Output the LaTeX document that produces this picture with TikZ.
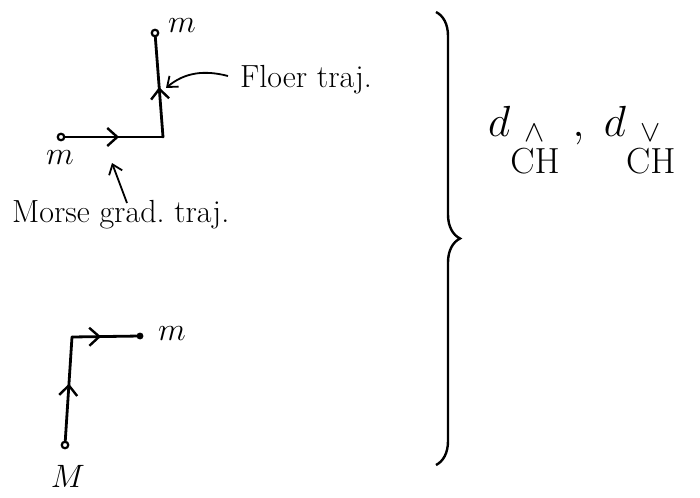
\documentclass[tikz,border=0pt]{standalone}
\usepackage{amsmath}
\usetikzlibrary{arrows.meta,decorations.markings,decorations.pathreplacing}
\begin{document}
\begin{tikzpicture}[x=1pt,y=-1pt,
  ink/.style={line width=2.8pt,line cap=round,line join=round},
  pt/.style={circle,draw,line width=2.2pt,fill=white,inner sep=2.3pt},
  midarrow/.style={postaction={decorate},decoration={markings,mark=at position #1 with {\arrow{Straight Barb[length=10pt,width=18pt,line width=2.4pt]}}}},
  lbl/.style={font=\Huge,inner sep=0pt},
  txt/.style={font=\fontsize{32}{36}\selectfont,inner sep=0pt,anchor=west},
  thin/.style={line width=1.8pt,-{Straight Barb[length=9pt,width=14pt,line width=1.8pt]}}
]
\useasboundingbox (0,0) rectangle (700,497);
% top figure
\node[pt] (a) at (61,137) {};
\coordinate (c1) at (163,137);
\node[pt] (b) at (155,33) {};
\draw[ink,midarrow=0.55] (a) -- (c1);
\draw[ink,midarrow=0.5] (c1) -- (b);
\node[lbl] (la) at (60,158) {\scalebox{1.3}{$m$}};
\node[lbl] (lb) at (182,26) {\scalebox{1.3}{$m$}};
\node[txt] (floer) at (240,80) {Floer traj.};
\draw[thin] (floer.west) ++(-12,-4) coordinate (f0) .. controls (205,70) and (185,72) .. (166,88);
\node[txt] (morse) at (12,215) {Morse grad.\ traj.};
\coordinate (m0) at (127,203);
\draw[thin] (m0) -- (112,163);
% bottom figure
\node[pt] (p) at (65,445) {};
\coordinate (c2) at (72,337);
\node[pt,inner sep=1.6pt,fill=black] (q) at (140,336) {};
\draw[ink,midarrow=0.55] (p) -- (c2);
\draw[ink,midarrow=0.45] (c2) -- (q);
\node[lbl] (lq) at (172,334) {\scalebox{1.3}{$m$}};
\node[lbl] (lp) at (68,476) {\scalebox{1.3}{$M$}};
% brace
\coordinate (br1) at (436,12);
\coordinate (br2) at (436,465);
\draw[line width=2.4pt,decorate,decoration={brace,amplitude=24pt,aspect=0.5}] (br1) -- (br2);
% formula
\node[font=\Huge,anchor=west,inner sep=0pt] (eq) at (488,140)
  {\scalebox{1.75}{$d_{\overset{\scriptscriptstyle\wedge}{\mathrm{CH}}}\;,\; d_{\overset{\scriptscriptstyle\vee}{\mathrm{CH}}}$}};
\end{tikzpicture}
\end{document}
